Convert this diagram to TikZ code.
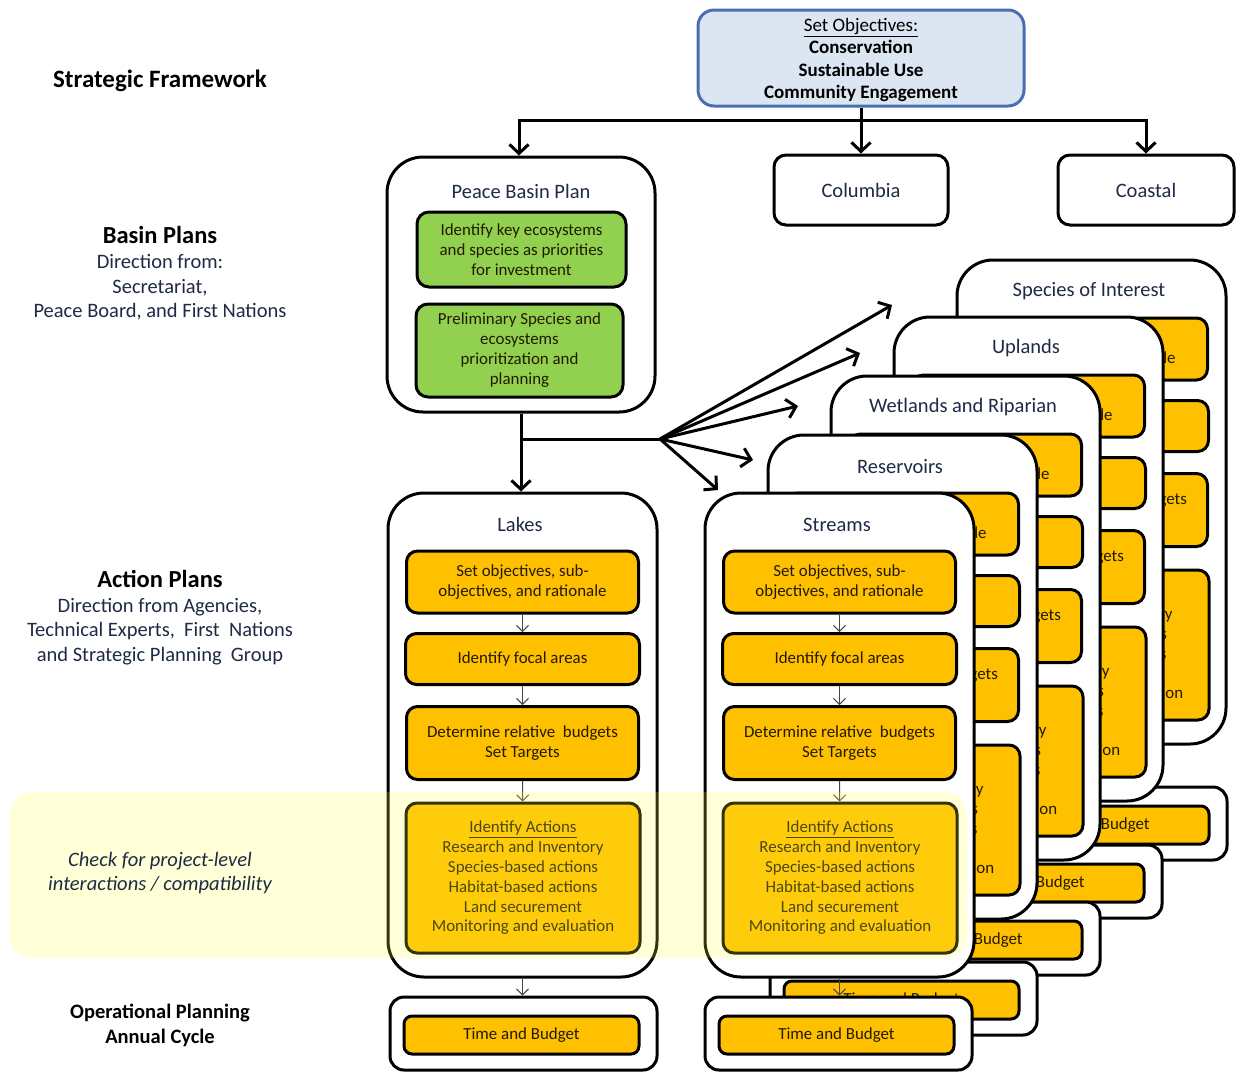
\documentclass[tikz,border=0pt]{standalone}
\usepackage{fontspec}
\setmainfont{Carlito}
\usetikzlibrary{arrows.meta}
\definecolor{orng}{HTML}{FFC000}
\definecolor{grn}{HTML}{92D050}
\definecolor{objfill}{HTML}{DCE6F2}
\definecolor{objline}{HTML}{4A6FAE}
\definecolor{navy}{HTML}{1F2A44}
\definecolor{boxtxt}{HTML}{221A00}
\definecolor{thinar}{HTML}{454545}
\definecolor{bandc}{RGB}{255,255,60}

\tikzset{
  cardbox/.style={draw=black, line width=3pt, fill=white, rounded corners=36pt, minimum width=269pt, minimum height=484pt, inner sep=0pt},
  tfbox/.style={draw=black, line width=3pt, fill=white, rounded corners=14pt, minimum width=267pt, minimum height=73pt, inner sep=0pt},
  obox/.style={draw=black, line width=3pt, fill=orng, rounded corners=11pt, align=center, inner sep=0pt, text=boxtxt, font=\fontsize{16.9}{20.8}\selectfont},
  gbox/.style={draw=black, line width=3pt, fill=grn, rounded corners=12pt, align=center, inner sep=0pt, text=boxtxt, font=\fontsize{16.9}{20}\selectfont},
  wbox/.style={draw=black, line width=3pt, fill=white, rounded corners=12pt, inner sep=0pt, text=navy, font=\fontsize{20.5}{24}\selectfont},
  ttl/.style={text=navy, font=\fontsize{20.5}{24}\selectfont, inner sep=0pt},
  lhead/.style={text=black, font=\fontsize{24.5}{28}\selectfont\bfseries, inner sep=0pt, align=center},
  lbody/.style={text=navy, font=\fontsize{20.5}{24.5}\selectfont, inner sep=0pt, align=center},
  thinarrow/.style={draw=thinar, line width=1pt, -{Straight Barb[length=6pt,width=12pt]}},
  bigarrow/.style={draw=black, line width=3pt, -{Straight Barb[length=9pt,width=19pt]}},
  bigline/.style={draw=black, line width=3pt, line cap=rect},
}

\newcommand{\actcard}[4]{%
  \node[cardbox] (#1card) at (#2+134.5, #3+242) {};
  \node[ttl] (#1ttl) at (#2+132, #3+31.5) {#4};
  \node[obox, minimum width=232pt, minimum height=62pt] (#1b1) at (#2+134.5, #3+89) {Set objectives, sub-\\objectives, and rationale};
  \node[obox, minimum width=234pt, minimum height=51pt] (#1b2) at (#2+134.5, #3+166) {Identify focal areas};
  \node[obox, minimum width=232pt, minimum height=73pt] (#1b3) at (#2+134.5, #3+250) {Determine relative\ \ budgets\\Set Targets};
  \node[obox, minimum width=234pt, minimum height=150pt, font=\fontsize{16.9}{19.8}\selectfont] (#1b4) at (#2+135, #3+385) {\underline{Identify Actions}\\Research and Inventory\\Species-based actions\\Habitat-based actions\\Land securement\\Monitoring and evaluation};
  \draw[thinarrow] (#1b1) -- (#1b2);
  \draw[thinarrow] (#1b2) -- (#1b3);
  \draw[thinarrow] (#1b3) -- (#1b4);
}
\newcommand{\tframe}[3]{%
  \node[tfbox] (#1tf) at (#2+133.5, #3+36.5) {};
  \node[obox, minimum width=235pt, minimum height=38pt, rounded corners=8pt] (#1tb) at (#2+131.5, #3+38) {Time and Budget};
  \draw[thinarrow] (#1card.south) -- (#1card.south |- #1tf.north);
}

\begin{document}
\begin{tikzpicture}[x=1pt, y=-1pt]
\useasboundingbox (0,0) rectangle (1236,1072);
\fill[white] (0,0) rectangle (1236,1072);

% left labels
\node[lhead, font=\fontsize{25}{28}\selectfont\bfseries] (sf) at (160,81) {Strategic Framework};
\node[lhead] (bp) at (160,235) {Basin Plans};
\node[lbody] (bpd) at (160,287.5) {Direction from:\\Secretariat,\\Peace Board, and First Nations};
\node[lhead] (ap) at (160,579) {Action Plans};
\node[lbody] (apd) at (160,631.5) {Direction from Agencies,\\Technical Experts,~ First~ Nations\\and Strategic Planning~ Group};
\node[lhead, font=\fontsize{20.5}{25}\selectfont\bfseries] (op) at (160,1025.5) {Operational Planning\\Annual Cycle};

% top objectives
\node[draw=objline, line width=3pt, fill=objfill, rounded corners=16pt, minimum width=326pt, minimum height=96pt, inner sep=0pt] (obj) at (861,58) {};
\node[align=center, inner sep=0pt, font=\fontsize{19}{22.3}\selectfont] (objtxt) at (861,60) {\underline{Set Objectives:}\\\textbf{Conservation}\\\textbf{Sustainable Use}\\\textbf{Community Engagement}};

% basin plans
\node[cardbox, minimum width=268pt, minimum height=255pt] (peace) at (521,284.5) {};
\node[ttl] (peacettl) at (521,191) {Peace Basin Plan};
\node[gbox, minimum width=209pt, minimum height=75pt] (g1) at (521.5,249.5) {Identify key ecosystems\\and species as priorities\\for investment};
\node[gbox, minimum width=207pt, minimum height=93pt] (g2) at (519.5,350.5) {Preliminary Species and\\ecosystems\\prioritization and\\planning};
\node[wbox, minimum width=174pt, minimum height=70pt] (col) at (861,190) {Columbia};
\node[wbox, minimum width=176pt, minimum height=70pt] (coast) at (1146,190) {Coastal};

\coordinate (hl) at (519,120);
\coordinate (hr) at (1146,120);
\draw[bigline] (hl) -- (hr);
\draw[bigarrow] (obj) -- (col);
\draw[bigarrow] (hl) -- (hl |- peace.north);
\draw[bigarrow] (hr) -- (coast);

% stacked action plans (back to front)
\actcard{sp}{957}{260}{Species of Interest}
\tframe{sp}{960}{787}
\actcard{up}{894}{317}{Uplands}
\tframe{up}{895}{845}
\actcard{wr}{831}{376}{Wetlands and Riparian}
\tframe{wr}{833}{902}
\actcard{rs}{768}{435}{Reservoirs}
\tframe{rs}{770}{962}
\actcard{st}{705}{493}{Streams}
\tframe{st}{705}{997}
\actcard{lk}{388}{493}{Lakes}
\tframe{lk}{390}{997}

% connectors from basin plan
\draw[bigarrow] (peace.south) -- (peace.south |- lkcard.north);
\coordinate (fan) at (660,439);
\draw[bigline] (peace.south |- fan) -- (fan);
\coordinate (f1) at (892,305);
\coordinate (f2) at (860,353);
\coordinate (f3) at (798,406);
\coordinate (f4) at (753,460);
\coordinate (f5) at (718,490);
\foreach \t in {f1,f2,f3,f4,f5} \draw[bigarrow] (fan) -- (\t);

% highlight band
\fill[bandc, fill opacity=0.2, rounded corners=22pt] (10,792) rectangle (967,958);
\node[lbody, font=\fontsize{20.5}{24}\selectfont\itshape] (chk) at (160,873) {Check for project-level\\interactions / compatibility};
\end{tikzpicture}
\end{document}
